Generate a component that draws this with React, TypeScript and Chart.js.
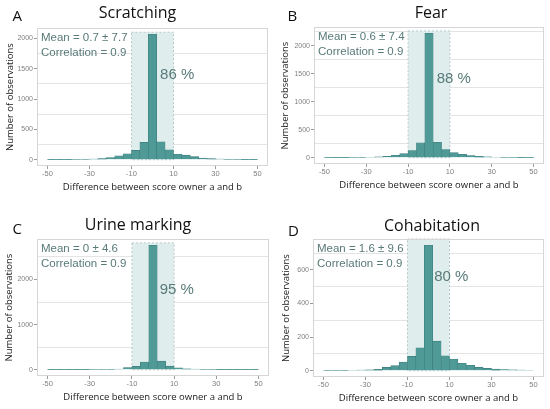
import React, { useEffect, useRef } from "react";
import { Chart, registerables } from "chart.js";

Chart.register(...registerables);

// ---------------- data ----------------
const PANEL_LETTERS = ["A", "B", "C", "D"];
const PANEL_TITLES = ["Scratching", "Fear", "Urine marking", "Cohabitation"];
const X_AXIS_TITLE = "Difference between score owner a and b";
const Y_AXIS_TITLE = "Number of observations";

const BIN_CENTERS = [-48, -44, -40, -36, -32, -28, -24, -20, -16, -12, -8, -4, 0, 4, 8, 12, 16, 20, 24, 28, 32, 36, 40, 44, 48];

const SCRATCHING = [2, 2, 3, 4, 6, 10, 18, 35, 66, 99, 154, 286, 2070, 295, 165, 90, 75, 52, 28, 17, 10, 6, 4, 3, 2];
const FEAR = [2, 3, 4, 5, 6, 10, 16, 28, 44, 74, 130, 266, 2225, 278, 148, 92, 62, 40, 25, 16, 10, 7, 5, 3, 2];
const URINE_MARKING = [3, 3, 4, 4, 5, 6, 8, 10, 14, 51, 74, 170, 2757, 190, 80, 44, 22, 14, 10, 7, 5, 4, 3, 3, 3];
const COHABITATION = [2, 2, 2, 3, 4, 6, 9, 20, 30, 51, 85, 137, 747, 176, 89, 70, 44, 32, 20, 14, 10, 7, 5, 4, 3];

const SERIES = [SCRATCHING, FEAR, URINE_MARKING, COHABITATION];

const MEAN_LABELS = ["Mean = 0.7 ± 7.7", "Mean = 0.6 ± 7.4", "Mean = 0 ± 4.6", "Mean = 1.6 ± 9.6"];
const CORR_LABELS = ["Correlation = 0.9", "Correlation = 0.9", "Correlation = 0.9", "Correlation = 0.9"];
const PCT_LABELS = ["86 %", "88 %", "95 %", "80 %"];
// anchor of percentage label in data units (x difference, count)
const PCT_ANCHOR_X = [3.6, 3.7, 3.2, 2.7];
const PCT_ANCHOR_Y = [1334, 1332, 1670, 534];

const SHADE_RANGE = [-10, 10];
const SHADE_TOP = [2104, 2266, 2809, 784];

const X_TICKS = [-50, -30, -10, 10, 30, 50];
const X_RANGE = [-55, 55];
const Y_MAJOR = [
  [0, 500, 1000, 1500, 2000],
  [0, 500, 1000, 1500, 2000],
  [0, 1000, 2000],
  [0, 200, 400, 600],
];
const Y_MINOR = [
  [250, 750, 1250, 1750, 2250],
  [250, 750, 1250, 1750, 2250],
  [500, 1500, 2500],
  [100, 300, 500, 700],
];

// ---------------- layout / style ----------------
const LAYOUT = [
  { left: 0, top: 0, w: 275, h: 205, area: { l: 37, r: 268, t: 28, b: 166 }, titleX: 137.5, titleBase: 18.3, letterX: 12.5, letterBase: 20.7, xTitlePad: 12.3, yTitlePad: 4.3 },
  { left: 275, top: 0, w: 275, h: 205, area: { l: 39, r: 269, t: 27, b: 164 }, titleX: 156, titleBase: 18.3, letterX: 12.5, letterBase: 21, xTitlePad: 14.3, yTitlePad: 4.3 },
  { left: 0, top: 205, w: 275, h: 204, area: { l: 37, r: 269, t: 34, b: 171 }, titleX: 138, titleBase: 25, letterX: 12.5, letterBase: 29.3, xTitlePad: 5.6, yTitlePad: 3.3 },
  { left: 275, top: 205, w: 275, h: 204, area: { l: 38, r: 269, t: 34, b: 172 }, titleX: 157, titleBase: 26, letterX: 13, letterBase: 31, xTitlePad: 5, yTitlePad: 6 },
];

const BAR_FILL = "#4f9997";
const BAR_EDGE = "#3c7e7c";
const SHADE_FILL = "#e0eded";
const SHADE_EDGE = "#b7c8c8";
const NOTE_COLOR = "#587a78";
const TICK_COLOR = "#808080";
const GRID_COLOR = "#e4e4e4";
const BOX_COLOR = "#d6d6d6";
const TRANSPARENT = "rgba(0,0,0,0)";

const decorPlugin = {
  id: "decor",
  beforeDatasetsDraw(chart: any, _args: any, opts: any) {
    const { ctx, scales } = chart;
    const x = scales.x;
    const y = scales.y;
    const x0 = x.getPixelForValue(opts.shade[0]);
    const x1 = x.getPixelForValue(opts.shade[1]);
    const yt = y.getPixelForValue(opts.shadeTop);
    const yb = y.getPixelForValue(0);
    ctx.save();
    ctx.fillStyle = SHADE_FILL;
    ctx.fillRect(x0, yt, x1 - x0, yb - yt);
    ctx.setLineDash([2, 2]);
    ctx.strokeStyle = SHADE_EDGE;
    ctx.lineWidth = 1;
    ctx.strokeRect(x0, yt, x1 - x0, yb - yt);
    ctx.restore();
  },
  afterDraw(chart: any, _args: any, opts: any) {
    const { ctx, chartArea, scales } = chart;
    const x = scales.x;
    const y = scales.y;
    ctx.save();
    // panel box
    ctx.strokeStyle = BOX_COLOR;
    ctx.lineWidth = 1;
    ctx.strokeRect(chartArea.left + 0.5, chartArea.top + 0.5, chartArea.right - chartArea.left - 1, chartArea.bottom - chartArea.top - 1);
    // letter
    ctx.fillStyle = "#111";
    ctx.textBaseline = "alphabetic";
    ctx.textAlign = "left";
    ctx.font = "15px 'Open Sans'";
    ctx.fillText(opts.letter, opts.letterX, opts.letterBase);
    // title
    ctx.textAlign = "center";
    ctx.font = "16px 'Open Sans'";
    ctx.fillText(opts.title, opts.titleX, opts.titleBase);
    // notes
    ctx.textAlign = "left";
    ctx.fillStyle = NOTE_COLOR;
    ctx.font = "11.5px 'Liberation Sans'";
    ctx.fillText(opts.mean, chartArea.left + 4, chartArea.top + 13);
    ctx.fillText(opts.corr, chartArea.left + 4, chartArea.top + 27.5);
    ctx.font = "15px 'Liberation Sans'";
    ctx.fillText(opts.pct, x.getPixelForValue(opts.pctX), y.getPixelForValue(opts.pctY));
    ctx.restore();
  },
};

function Panel({ idx }: { idx: number }) {
  const ref = useRef<HTMLCanvasElement | null>(null);
  const L = LAYOUT[idx];
  useEffect(() => {
    if (!ref.current) return;
    const values = SERIES[idx];
    const maxV = Math.max(...values);
    const major = Y_MAJOR[idx];
    const yMin = -0.05 * maxV;
    const yMax = 1.05 * maxV;
    const minor = Y_MINOR[idx].filter((v) => v < yMax);
    const allY = [...major, ...minor].sort((a, b) => a - b);
    const isMinor = (v: number) => minor.includes(v);

    const chart = new Chart(ref.current, {
      type: "bar",
      data: {
        datasets: [
          {
            data: BIN_CENTERS.map((c, i) => ({ x: c, y: values[i] })),
            backgroundColor: BAR_FILL,
            borderColor: BAR_EDGE,
            borderWidth: 0.6,
            barPercentage: 1,
            categoryPercentage: 1,
          } as any,
        ],
      },
      options: {
        responsive: false,
        animation: false,
        devicePixelRatio: 1,
        layout: { padding: { left: 0, top: L.area.t, right: L.w - L.area.r, bottom: 0 } },
        plugins: {
          legend: { display: false },
          tooltip: { enabled: false },
          title: { display: false },
          decor: {
            shade: SHADE_RANGE,
            shadeTop: SHADE_TOP[idx],
            letter: PANEL_LETTERS[idx],
            title: PANEL_TITLES[idx],
            mean: MEAN_LABELS[idx],
            corr: CORR_LABELS[idx],
            pct: PCT_LABELS[idx],
            pctX: PCT_ANCHOR_X[idx],
            pctY: PCT_ANCHOR_Y[idx],
            letterX: L.letterX,
            letterBase: L.letterBase,
            titleX: L.titleX,
            titleBase: L.titleBase,
          },
        } as any,
        scales: {
          x: {
            type: "linear",
            min: X_RANGE[0],
            max: X_RANGE[1],
            offset: false,
            afterBuildTicks: (s: any) => {
              s.ticks = X_TICKS.map((v) => ({ value: v }));
            },
            afterFit: (s: any) => {
              s.height = L.h - L.area.b;
            },
            grid: { offset: false, drawOnChartArea: false, drawTicks: true, tickLength: 3, color: "#9a9a9a", tickColor: "#9a9a9a" },
            border: { display: false },
            ticks: { autoSkip: false, maxRotation: 0, padding: 0, color: TICK_COLOR, font: { family: "'Liberation Sans'", size: 7.5 } },
            title: {
              display: true,
              text: X_AXIS_TITLE,
              color: "#1a1a1a",
              font: { family: "'Open Sans'", size: 9.5 },
              padding: { top: 0, bottom: L.xTitlePad },
            },
          },
          y: {
            type: "linear",
            min: yMin,
            max: yMax,
            afterBuildTicks: (s: any) => {
              s.ticks = allY.map((v) => ({ value: v }));
            },
            afterFit: (s: any) => {
              s.width = L.area.l;
            },
            grid: {
              drawTicks: true,
              tickLength: 3,
              color: (c: any) => (c.tick && isMinor(c.tick.value) ? GRID_COLOR : TRANSPARENT),
              tickColor: (c: any) => (c.tick && isMinor(c.tick.value) ? TRANSPARENT : "#9a9a9a"),
            },
            border: { display: false },
            ticks: {
              autoSkip: false,
              padding: 1,
              color: TICK_COLOR,
              font: { family: "'Liberation Sans'", size: 7 },
              callback: (v: any) => (major.includes(Number(v)) ? String(v) : ""),
            },
            title: {
              display: true,
              text: Y_AXIS_TITLE,
              color: "#1a1a1a",
              font: { family: "'Open Sans'", size: 9.5 },
              padding: { top: L.yTitlePad, bottom: 0 },
            },
          },
        },
      } as any,
      plugins: [decorPlugin as any],
    });
    return () => chart.destroy();
  }, [idx]);

  return (
    <div style={{ position: "absolute", left: L.left, top: L.top, width: L.w, height: L.h }}>
      <canvas ref={ref} width={L.w} height={L.h} style={{ width: L.w, height: L.h, display: "block" }} />
    </div>
  );
}

export default function App() {
  return (
    <div style={{ position: "absolute", left: 0, top: 0, width: 550, height: 409, background: "#ffffff", overflow: "hidden" }}>
      {[0, 1, 2, 3].map((i) => (
        <Panel key={i} idx={i} />
      ))}
    </div>
  );
}
